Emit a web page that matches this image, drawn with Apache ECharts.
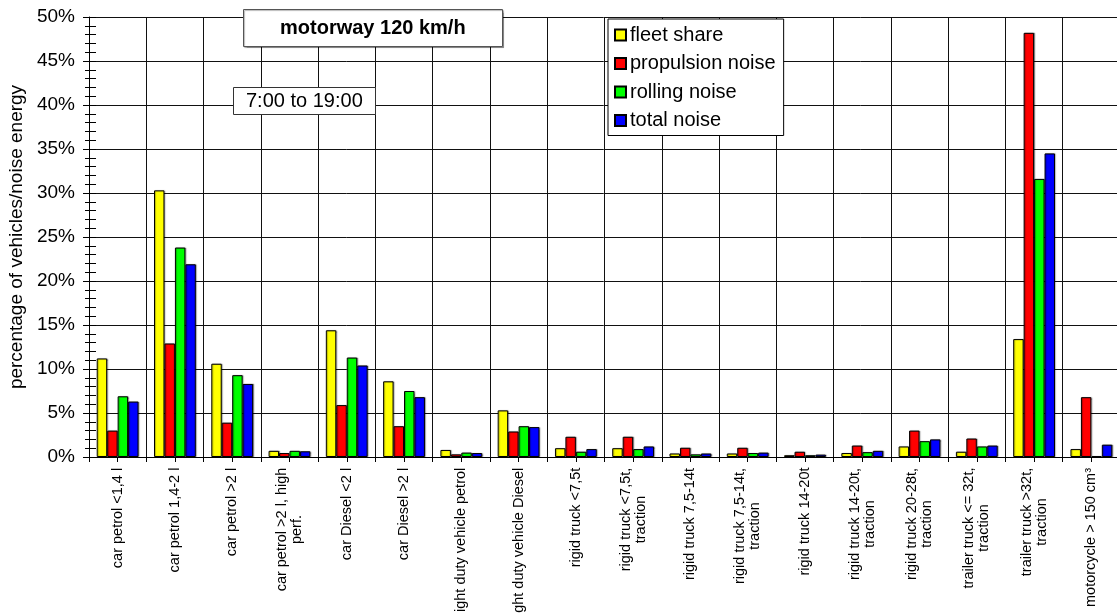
<html>
<head>
    <meta charset="utf-8">
    <title>ECharts</title>
    <script src="https://cdn.jsdelivr.net/npm/echarts@6/dist/echarts.min.js"></script>
</head>
<body style="margin:0">
    <div id="main" style="width: 1117px;height:613px;"></div>
    <script type="text/javascript">
        var categories = [
            'car petrol <1,4 l', 'car petrol 1,4-2 l', 'car petrol >2 l', 'car petrol >2 l, high\nperf.',
            'car Diesel <2 l', 'car Diesel >2 l', 'light duty vehicle petrol', 'light duty vehicle Diesel',
            'rigid truck <7,5t', 'rigid truck <7,5t,\ntraction', 'rigid truck 7,5-14t', 'rigid truck 7,5-14t,\ntraction',
            'rigid truck 14-20t', 'rigid truck 14-20t,\ntraction', 'rigid truck 20-28t,\ntraction',
            'trailer truck <= 32t,\ntraction', 'trailer truck >32t,\ntraction', 'motorcycle > 150 cm³'
        ];
        var fleetShare = [11.2, 30.3, 10.6, 0.7, 14.4, 8.6, 0.8, 5.3, 1.0, 1.0, 0.4, 0.4, 0.2, 0.45, 1.2, 0.6, 13.4, 0.9];
        var propulsionNoise = [3.0, 12.9, 3.9, 0.45, 5.9, 3.5, 0.3, 2.9, 2.3, 2.3, 1.05, 1.05, 0.6, 1.3, 3.0, 2.1, 48.2, 6.8];
        var rollingNoise = [6.9, 23.8, 9.3, 0.7, 11.3, 7.5, 0.5, 3.5, 0.6, 0.9, 0.3, 0.45, 0.2, 0.55, 1.8, 1.2, 31.6, 0.1];
        var totalNoise = [6.3, 21.9, 8.3, 0.65, 10.4, 6.8, 0.45, 3.4, 0.9, 1.2, 0.4, 0.5, 0.27, 0.7, 2.0, 1.3, 34.5, 1.4];
        var seriesNames = ['fleet share', 'propulsion noise', 'rolling noise', 'total noise'];
        var seriesColors = ['#ffff00', '#ff0000', '#00ff00', '#0000ff'];
        var seriesData = [fleetShare, propulsionNoise, rollingNoise, totalNoise];

        var FONT = '"Liberation Sans", Arial, sans-serif';

        // 多行标签居中：按最长一行的宽度给每个标签一个 rich 样式
        var ctx = document.createElement('canvas').getContext('2d');
        ctx.font = '14.5px ' + FONT;
        var rich = {};
        categories.forEach(function (c, i) {
            var w = 0;
            c.split('\n').forEach(function (line) {
                w = Math.max(w, ctx.measureText(line).width);
            });
            rich['c' + i] = {
                width: Math.ceil(w) + 1,
                align: 'center',
                fontSize: 14.5,
                lineHeight: 15,
                fontFamily: FONT,
                color: '#000'
            };
        });

        var myChart = echarts.init(document.getElementById('main'));

        var option = {
            animation: false,
            backgroundColor: '#fff',
            textStyle: { fontFamily: FONT, color: '#000' },
            title: [{
                text: 'motorway 120 km/h',
                left: 243,
                top: 9,
                padding: [9, 37, 9, 37],
                borderColor: '#555',
                borderWidth: 1,
                backgroundColor: '#fff',
                shadowColor: 'rgba(0,0,0,0.3)',
                shadowOffsetX: 1,
                shadowOffsetY: 1,
                shadowBlur: 1,
                textStyle: { fontSize: 20, fontWeight: 'bold', fontFamily: FONT, color: '#000' }
            }, {
                text: '7:00 to 19:00',
                left: 233,
                top: 87,
                padding: [4, 13, 4, 13],
                borderColor: '#333',
                borderWidth: 1,
                backgroundColor: '#fff',
                textStyle: { fontSize: 20, fontWeight: 'normal', fontFamily: FONT, color: '#000' }
            }],
            legend: {
                data: seriesNames,
                orient: 'vertical',
                left: 608,
                top: 19,
                padding: [6, 8, 5, 6],
                itemGap: 8.5,
                itemWidth: 11,
                itemHeight: 11,
                icon: 'rect',
                borderColor: '#000',
                borderWidth: 1,
                backgroundColor: '#fff',
                textStyle: { fontSize: 20, fontFamily: FONT, color: '#000', padding: [0, 0, 0, -1] }
            },
            grid: {
                left: 89,
                top: 17,
                bottom: 156,
                width: 1031,
                outerBoundsMode: 'none',
                containLabel: false
            },
            xAxis: [{
                type: 'category',
                data: categories,
                axisLine: { lineStyle: { color: '#000', width: 1 } },
                axisTick: { show: true, length: 5, interval: 0, lineStyle: { color: '#000' } },
                splitLine: { show: true, interval: 0, lineStyle: { color: '#111', width: 1 } },
                axisLabel: {
                    interval: 0,
                    rotate: 90,
                    margin: 10,
                    formatter: function (v, idx) {
                        return v.split('\n').map(function (l) {
                            return '{c' + idx + '|' + l + '}';
                        }).join('\n');
                    },
                    rich: rich
                }
            }, {
                // 类别中心的小刻度
                type: 'category',
                data: categories,
                position: 'bottom',
                axisLine: { show: false },
                axisTick: { show: true, alignWithLabel: true, length: 5, interval: 0, lineStyle: { color: '#000' } },
                axisLabel: { show: false },
                splitLine: { show: false }
            }],
            yAxis: [{
                type: 'value',
                min: 0,
                max: 50,
                interval: 5,
                name: 'percentage of vehicles/noise energy',
                nameLocation: 'middle',
                nameGap: 57,
                nameTextStyle: { fontSize: 19, fontFamily: FONT, color: '#000' },
                axisLine: { show: true, lineStyle: { color: '#000' } },
                axisTick: { show: true, length: 6, lineStyle: { color: '#000' } },
                minorTick: { show: true, splitNumber: 5, length: 4, lineStyle: { color: '#000' } },
                splitLine: { show: true, lineStyle: { color: '#111', width: 1 } },
                axisLabel: {
                    fontSize: 19,
                    margin: 14,
                    color: '#000',
                    formatter: function (v) { return v + '%'; }
                }
            }, {
                // 向内的刻度
                type: 'value',
                min: 0,
                max: 50,
                interval: 5,
                position: 'left',
                axisLine: { show: false },
                axisTick: { show: true, inside: true, length: 7, lineStyle: { color: '#000' } },
                minorTick: { show: true, splitNumber: 5, length: 7, lineStyle: { color: '#000' } },
                splitLine: { show: false },
                axisLabel: { show: false }
            }],
            series: seriesData.map(function (d, i) {
                return {
                    name: seriesNames[i],
                    type: 'bar',
                    data: d,
                    barGap: '0%',
                    barCategoryGap: '27%',
                    itemStyle: {
                        color: seriesColors[i],
                        borderColor: '#000',
                        borderWidth: 1,
                        shadowColor: 'rgba(0,0,0,0.3)',
                        shadowBlur: 1,
                        shadowOffsetX: 1,
                        shadowOffsetY: 0
                    }
                };
            })
        };

        myChart.setOption(option);
    </script>
</body>
</html>
